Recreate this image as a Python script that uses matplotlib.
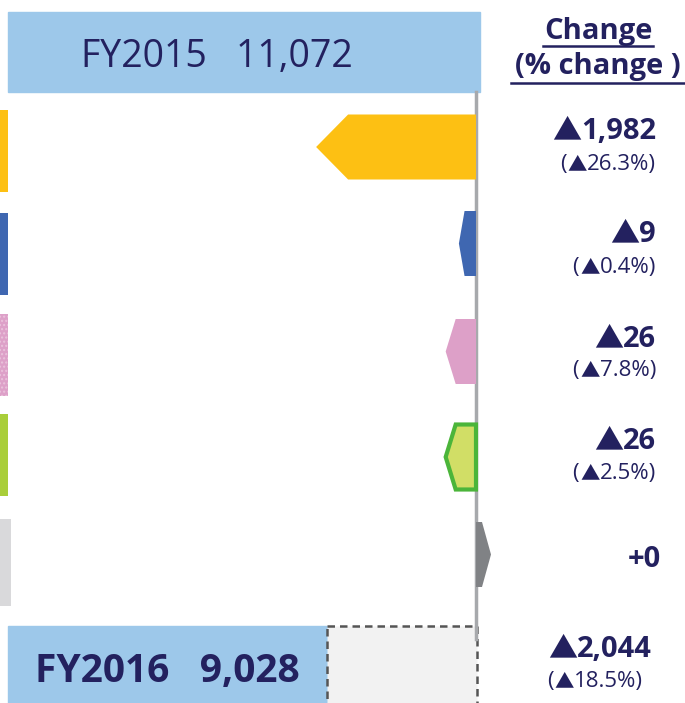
import matplotlib
matplotlib.use("Agg")
import matplotlib.pyplot as plt
from matplotlib.patches import Polygon, Rectangle

# ---- data ----
fy2015_label = "FY2015"
fy2015_value = 11072
fy2016_label = "FY2016"
fy2016_value = 9028
changes = [1982, 9, 26, 26, 0]            # decreases (▲ = minus)
pct_changes = [26.3, 0.4, 7.8, 2.5, None]
total_change = 2044
total_pct = 18.5
colors = ["#FDC013", "#3F67B1", "#DDA0C8", "#D1DE66", "#808285"]
edge_colors = [None, None, None, "#4BB53A", None]
stripe_colors = ["#FDC013", "#3F67B1", "#DDA0C8", "#A9CE3A", "#D9D9DB"]

NAVY = "#23215F"
BAR_BLUE = "#9DC8EA"
FONT = ["Open Sans", "DejaVu Sans"]
TRI = ["Noto Sans CJK JP", "DejaVu Sans"]

fig = plt.figure(figsize=(6.85, 7.03), dpi=100)
ax = fig.add_axes([0, 0, 1, 1])
ax.set_xlim(0, 685)
ax.set_ylim(703, 0)
ax.axis("off")
renderer = fig.canvas.get_renderer()

base_x = 476
left_x = 8


def arrow_len(v):
    # schematic (compressed) length scale
    return max(-18.2 + 18.26 * v ** 0.3, 15)


def pieces_text(x, y, pieces, align="right"):
    """pieces: list of (string, kwargs, gap_after); y is the baseline"""
    objs = []
    widths = []
    for s, kw, gap in pieces:
        t = ax.text(0, y, s, color=NAVY, ha="left", va="baseline", **kw)
        bb = t.get_window_extent(renderer=renderer)
        objs.append(t)
        widths.append(bb.width + gap)
    total = sum(widths)
    start = x - total if align == "right" else x - total / 2
    cur = start
    for t, w in zip(objs, widths):
        t.set_x(cur)
        cur += w


def value_label(x, y, v, align="right"):
    pieces_text(x, y, [("▲", dict(fontsize=21, family=TRI), 0),
                       (f"{v:,}", dict(fontsize=21, fontweight="bold", family=FONT), 0)],
                align)


def pct_label(x, y, p, align="right"):
    pieces_text(x, y, [("(", dict(fontsize=16, family=FONT), 1),
                       ("▲", dict(fontsize=14, family=TRI), 0),
                       (f"{p}%)", dict(fontsize=16, family=FONT), 0)],
                align)


# top bar
ax.add_patch(Rectangle((left_x, 12), 480 - left_x, 80, color=BAR_BLUE, zorder=1))
ax.text(217, 67, f"{fy2015_label}   {fy2015_value:,}", color=NAVY,
        fontsize=27, ha="center", va="baseline", family=FONT)

# baseline
ax.plot([base_x, base_x], [92, 639], color="#A7A9AC", lw=2.5, zorder=2)

# header
ax.text(598, 39, "Change", color=NAVY, fontsize=21, fontweight="bold",
        ha="center", va="baseline", family=FONT)
ax.text(598, 74, "(% change )", color=NAVY, fontsize=21, fontweight="bold",
        ha="center", va="baseline", family=FONT)
ax.plot([543, 653], [46, 46], color=NAVY, lw=1.8)
ax.plot([511, 685], [83, 83], color=NAVY, lw=1.8)

arrow_centers = [147, 243.5, 351.5, 457, 554.5]
stripe_tops = [110, 213, 314, 414, 519]
value_baselines = [139, 242, 347, 449, 567]
pct_baselines = [170, 273, 376, 479, None]
stripe_h = 82
arrow_h = 65
for i, (v, p) in enumerate(zip(changes, pct_changes)):
    yc = arrow_centers[i]
    # left stripe
    sw = 11 if i == 4 else 8
    sh = 87 if i == 4 else stripe_h
    hatch = "...." if i == 2 else None
    ax.add_patch(Rectangle((0, stripe_tops[i]), sw, sh,
                           facecolor=stripe_colors[i], edgecolor="#EAC2DC" if hatch else "none",
                           hatch=hatch, lw=0, zorder=1))
    L = arrow_len(v)
    top, bot = yc - arrow_h / 2, yc + arrow_h / 2
    if v > 0:
        head = min(L * 0.33, 32)
        pts = [(base_x, top), (base_x - L + head, top), (base_x - L, yc),
               (base_x - L + head, bot), (base_x, bot)]
    else:
        head = L * 0.6
        pts = [(base_x, top), (base_x + L - head, top), (base_x + L, yc),
               (base_x + L - head, bot), (base_x, bot)]
    ec = edge_colors[i]
    ax.add_patch(Polygon(pts, closed=True, facecolor=colors[i],
                         edgecolor=ec if ec else "none", lw=3 if ec else 0, zorder=3,
                         joinstyle="miter"))
    # labels
    if v > 0:
        value_label(656, value_baselines[i], v)
        pct_label(656, pct_baselines[i], p)
    else:
        ax.text(661, value_baselines[i], f"+{v}", color=NAVY, fontsize=21, fontweight="bold",
                ha="right", va="baseline", family=FONT)

# bottom bars
split = base_x - 0.92 * arrow_len(total_change)
ax.add_patch(Rectangle((left_x, 626), split - left_x, 80, color=BAR_BLUE, zorder=1))
ax.add_patch(Rectangle((split, 626), 477 - split, 80, facecolor="#F2F2F2",
                       edgecolor="#555555", ls=(0, (3, 2)), lw=1.8, zorder=1))
ax.text(167, 682, f"{fy2016_label}   {fy2016_value:,}", color=NAVY,
        fontsize=28, fontweight="bold", ha="center", va="baseline", family=FONT)
value_label(600, 657, total_change, align="center")
pct_label(595, 687, total_pct, align="center")

fig.savefig("out.png", dpi=100)
